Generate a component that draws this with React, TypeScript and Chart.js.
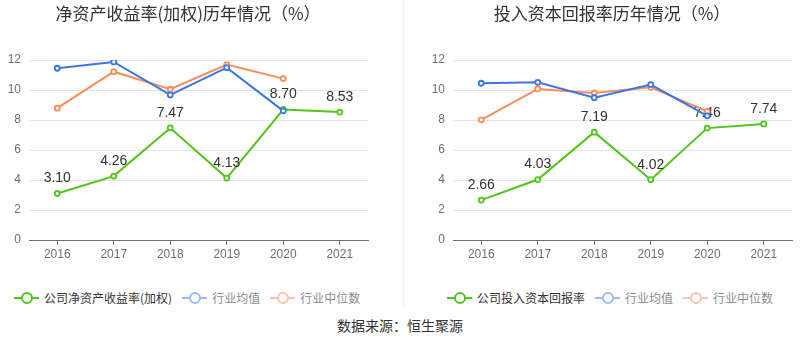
import React, { useEffect, useRef } from "react";
import { Chart, registerables } from "chart.js";

Chart.register(...registerables);

const years = ["2016", "2017", "2018", "2019", "2020", "2021"];
const yTickMax = 12;
const yTickStep = 2;

const roeCompany = [3.1, 4.26, 7.47, 4.13, 8.7, 8.53];
const roeIndustryAvg = [11.45, 11.87, 9.67, 11.49, 8.61, null];
const roeIndustryMedian = [8.79, 11.22, 10.05, 11.69, 10.76, null];

const roicCompany = [2.66, 4.03, 7.19, 4.02, 7.46, 7.74];
const roicIndustryAvg = [10.45, 10.51, 9.49, 10.36, 8.28, null];
const roicIndustryMedian = [8.01, 10.07, 9.8, 10.18, 8.57, null];

const GREEN = "#52c41a";
const BLUE = "#3a76e8";
const ORANGE = "#ff8a5a";
const LIGHT_BLUE = "#9dbcf5";
const LIGHT_ORANGE = "#ffc2a8";

const FONT = '"Liberation Sans", "Noto Sans CJK SC", sans-serif';
const CJK = '"Noto Sans CJK SC", sans-serif';

const labelPlugin = {
  id: "valueLabels",
  afterDatasetDraw(chart: any, args: any) {
    if (args.index !== 0) return;
    const ctx = chart.ctx;
    const meta = args.meta;
    const data = chart.data.datasets[0].data;
    ctx.save();
    ctx.font = `14px ${FONT}`;
    ctx.fillStyle = "#333";
    ctx.textAlign = "center";
    ctx.textBaseline = "middle";
    meta.data.forEach((pt: any, i: number) => {
      const v = data[i];
      if (v == null) return;
      ctx.fillText(Number(v).toFixed(2), pt.x, pt.y - 15);
    });
    ctx.restore();
  },
};

type PanelProps = {
  company: (number | null)[];
  avg: (number | null)[];
  median: (number | null)[];
  yAxisWidth: number;
  rightPad: number;
};

function LineChart({ company, avg, median, yAxisWidth, rightPad }: PanelProps) {
  const ref = useRef<HTMLCanvasElement>(null);
  useEffect(() => {
    if (!ref.current) return;
    const mk = (data: any, color: string, order: number) => ({
      data,
      borderColor: color,
      backgroundColor: color,
      pointBackgroundColor: "#fff",
      pointBorderColor: color,
      pointBorderWidth: 1.8,
      pointRadius: 2.5,
      borderWidth: 2,
      tension: 0,
      order,
    });
    const chart = new Chart(ref.current, {
      type: "line",
      data: {
        labels: years,
        datasets: [mk(company, GREEN, 3), mk(median, ORANGE, 2), mk(avg, BLUE, 1)],
      },
      options: {
        animation: false,
        responsive: false,
        maintainAspectRatio: false,
        layout: { padding: { top: 60, right: rightPad, left: 0, bottom: 0 } },
        plugins: { legend: { display: false }, tooltip: { enabled: false }, title: { display: false } },
        scales: {
          x: {
            type: "category",
            offset: true,
            grid: {
              offset: false,
              drawOnChartArea: false,
              drawTicks: true,
              tickLength: 5,
              color: "#6e7079",
            },
            border: { display: true, color: "#6e7079", width: 1 },
            ticks: { color: "#6e7079", font: { size: 12, family: FONT }, padding: 2, maxRotation: 0 },
            afterFit: (s: any) => {
              s.height = 30;
            },
          },
          y: {
            min: 0,
            max: yTickMax,
            ticks: { stepSize: yTickStep, color: "#6e7079", font: { size: 12, family: FONT }, padding: 8 },
            grid: { color: "#e0e6f1", drawTicks: false },
            border: { display: false },
            afterFit: (s: any) => {
              s.width = yAxisWidth;
            },
          },
        },
      },
      plugins: [labelPlugin],
    } as any);
    return () => chart.destroy();
  }, []);
  return <canvas ref={ref} width={400} height={270} style={{ width: 400, height: 270, display: "block" }} />;
}

function LegendItem({ color, text, textColor }: { color: string; text: string; textColor: string }) {
  return (
    <div style={{ display: "flex", alignItems: "center", marginRight: 10 }}>
      <div style={{ position: "relative", width: 25, height: 14, marginRight: 5 }}>
        <div style={{ position: "absolute", left: 0, top: 6, width: 25, height: 2, background: color }} />
        <div
          style={{
            position: "absolute",
            left: 6.5,
            top: 1,
            width: 8,
            height: 8,
            borderRadius: "50%",
            border: `2px solid ${color}`,
            background: "#fff",
          }}
        />
      </div>
      <span style={{ fontFamily: CJK, fontSize: 12, color: textColor, whiteSpace: "nowrap" }}>{text}</span>
    </div>
  );
}

export default function App() {
  useEffect(() => {
    document.body.style.margin = "0";
  }, []);
  const titleStyle: React.CSSProperties = {
    position: "absolute",
    top: 1,
    fontFamily: CJK,
    fontSize: 17,
    color: "#333",
    whiteSpace: "nowrap",
    transform: "translateX(-50%)",
    lineHeight: "24px",
  };
  return (
    <div style={{ position: "relative", width: 800, height: 358, background: "#fff", overflow: "hidden" }}>
      <div style={{ position: "absolute", left: 0, top: 0 }}>
        <LineChart company={roeCompany} avg={roeIndustryAvg} median={roeIndustryMedian} yAxisWidth={29} rightPad={32} />
      </div>
      <div style={{ position: "absolute", left: 400, top: 0 }}>
        <LineChart company={roicCompany} avg={roicIndustryAvg} median={roicIndustryMedian} yAxisWidth={53} rightPad={8} />
      </div>
      <div style={{ position: "absolute", left: 403, top: 0, width: 1, height: 310, background: "#eeeeee" }} />
      <div style={{ ...titleStyle, left: 188 }}>净资产收益率(加权)历年情况（%）</div>
      <div style={{ ...titleStyle, left: 612 }}>投入资本回报率历年情况（%）</div>
      <div style={{ position: "absolute", left: 14, top: 289, display: "flex" }}>
        <LegendItem color={GREEN} text="公司净资产收益率(加权)" textColor="#333" />
        <LegendItem color={LIGHT_BLUE} text="行业均值" textColor="#8c8c8c" />
        <LegendItem color={LIGHT_ORANGE} text="行业中位数" textColor="#8c8c8c" />
      </div>
      <div style={{ position: "absolute", left: 447, top: 289, display: "flex" }}>
        <LegendItem color={GREEN} text="公司投入资本回报率" textColor="#333" />
        <LegendItem color={LIGHT_BLUE} text="行业均值" textColor="#8c8c8c" />
        <LegendItem color={LIGHT_ORANGE} text="行业中位数" textColor="#8c8c8c" />
      </div>
      <div
        style={{
          position: "absolute",
          left: 0,
          width: 800,
          top: 315,
          textAlign: "center",
          fontFamily: CJK,
          fontSize: 14,
          color: "#333",
          lineHeight: "20px",
        }}
      >
        数据来源：恒生聚源
      </div>
    </div>
  );
}
